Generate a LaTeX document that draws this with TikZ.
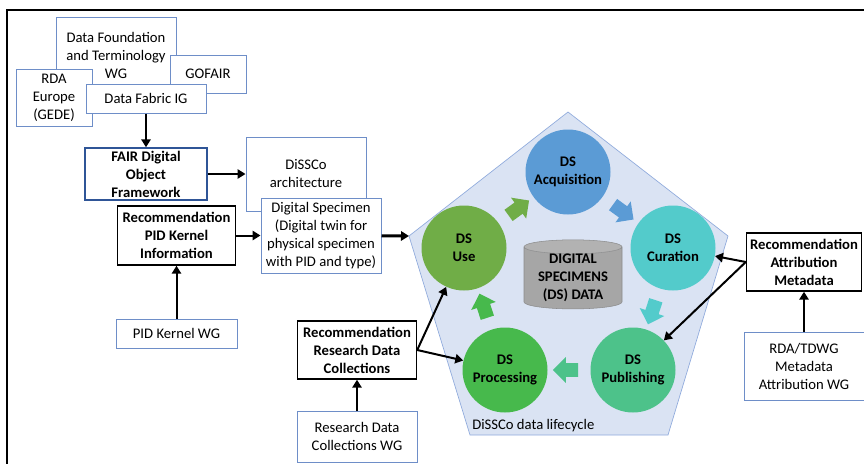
\documentclass[tikz,border=0pt]{standalone}
\usepackage{fontspec}
\setmainfont{Carlito}
\usetikzlibrary{arrows.meta,shapes.geometric,shapes.arrows,calc}

\definecolor{wgblue}{HTML}{6E8EC8}
\definecolor{fairblue}{HTML}{2F5597}
\definecolor{pentfill}{HTML}{DAE3F3}
\definecolor{pentline}{HTML}{8FAADC}
\definecolor{acqblue}{HTML}{5B9BD5}
\definecolor{curteal}{HTML}{53CBCB}
\definecolor{pubgreen}{HTML}{4DC28A}
\definecolor{procgreen}{HTML}{47B94C}
\definecolor{usegreen}{HTML}{70AD47}
\definecolor{cylgray}{HTML}{A6A6A6}
\definecolor{cyltop}{HTML}{B2B2B2}
\definecolor{cylline}{HTML}{8C8C8C}

\begin{document}
\begin{tikzpicture}[x=0.75pt,y=-0.75pt,
  every node/.style={font=\fontsize{11}{13.5}\selectfont, align=center, inner sep=0pt},
  wgbox/.style={draw=wgblue, fill=white, line width=0.75pt},
  recbox/.style={draw=black, fill=white, line width=1.1pt, font=\fontsize{11}{13.5}\selectfont\bfseries},
  stage/.style={circle, minimum size=63.75pt, font=\fontsize{11}{13.5}\selectfont\bfseries},
  flow/.style={single arrow, minimum height=19pt, single arrow head extend=4.5pt, inner sep=5pt},
  link/.style={line width=1.5pt, -{Triangle[length=6pt,width=7pt]}}]
\useasboundingbox (0,0) rectangle (864,464);
\draw[line width=1.5pt] (864,10) -- (7,10) -- (7,464);

\filldraw[fill=pentfill, draw=pentline, line width=0.5pt] (568,112) -- (728,236) -- (668,435) -- (470,435) -- (409,236) -- cycle;
\coordinate (pl) at (409,236);
\node[anchor=west] (cycle) at (472,426) {DiSSCo data lifecycle};

\node[stage, fill=acqblue] (acq) at (568,172) {DS\\Acquisition};
\node[stage, fill=curteal] (cur) at (673,248) {DS\\Curation};
\node[stage, fill=pubgreen] (pub) at (633,370) {DS\\Publishing};
\node[stage, fill=procgreen] (proc) at (505,370) {DS\\Processing};
\node[stage, fill=usegreen] (use) at (464,248) {DS\\Use};

\node[flow, fill=usegreen, rotate=36] (f1) at ($(use)!.5!(acq)$) {};
\node[flow, fill=acqblue, rotate=-36] (f2) at ($(acq)!.5!(cur)$) {};
\node[flow, fill=curteal, rotate=-108] (f3) at ($(cur)!.5!(pub)$) {};
\node[flow, fill=pubgreen, rotate=180] (f4) at ($(pub)!.5!(proc)$) {};
\node[flow, fill=procgreen, rotate=108] (f5) at ($(proc)!.5!(use)$) {};

\node[cylinder, shape border rotate=90, aspect=0.2, minimum width=73.5pt, minimum height=48pt,
  draw=cylline, cylinder uses custom fill, cylinder body fill=cylgray, cylinder end fill=cyltop,
  font=\fontsize{11}{13.5}\selectfont\bfseries] (dsdata) at (573,278) {DIGITAL\\SPECIMENS\\(DS) DATA};

\node[wgbox, minimum width=90pt, minimum height=57pt] (dftwg) at (116,55) {Data Foundation\\and Terminology\\WG};
\node[wgbox, minimum width=57pt, minimum height=28.5pt] (gofair) at (208,74) {GOFAIR};
\node[wgbox, minimum width=57pt, minimum height=42.75pt] (rdaeu) at (54,97.5) {RDA\\Europe\\(GEDE)};
\node[wgbox, minimum width=90pt, minimum height=21.75pt] (fabric) at (146,98.5) {Data Fabric IG};
\node[recbox, draw=fairblue, minimum width=91.5pt, minimum height=39pt] (fdo) at (146,174) {FAIR Digital\\Object\\Framework};
\node[wgbox, minimum width=90pt, minimum height=55.5pt] (arch) at (306,174) {DiSSCo\\architecture};
\node[wgbox, minimum width=90pt, minimum height=56.25pt] (ds) at (321,235.5) {Digital Specimen\\(Digital twin for\\physical specimen\\with PID and type)};
\node[recbox, minimum width=88.5pt, minimum height=44.25pt] (pidrec) at (176.5,235.5) {Recommendation\\PID Kernel\\Information};
\node[wgbox, minimum width=90.75pt, minimum height=21.75pt] (pidwg) at (176.5,333.5) {PID Kernel WG};
\node[recbox, minimum width=89.25pt, minimum height=43.5pt] (rdcrec) at (357,350) {Recommendation\\Research Data\\Collections};
\node[wgbox, minimum width=90pt, minimum height=38.25pt] (rdcwg) at (357,436.5) {Research Data\\Collections WG};
\node[recbox, minimum width=86.25pt, minimum height=43.5pt] (attrrec) at (804,262) {Recommendation\\Attribution\\Metadata};
\node[wgbox, minimum width=90pt, minimum height=51pt] (attrwg) at (804,366) {RDA/TDWG\\Metadata\\Attribution WG};

\draw[link] (fabric) -- (fdo);
\draw[link] (fdo) -- (arch);
\draw[link] (pidrec) -- (ds);
\draw[link] (pidwg) -- (pidrec);
\draw[link, line width=2.2pt] (ds) -- (pl);
\draw[link] (rdcwg) -- (rdcrec);
\draw[link] (rdcrec.east) -- (use);
\draw[link] (rdcrec.east) -- (proc);
\draw[link] (attrwg) -- (attrrec);
\draw[link] (attrrec.west) -- (cur);
\draw[link] (attrrec.west) -- (pub);
\end{tikzpicture}
\end{document}
